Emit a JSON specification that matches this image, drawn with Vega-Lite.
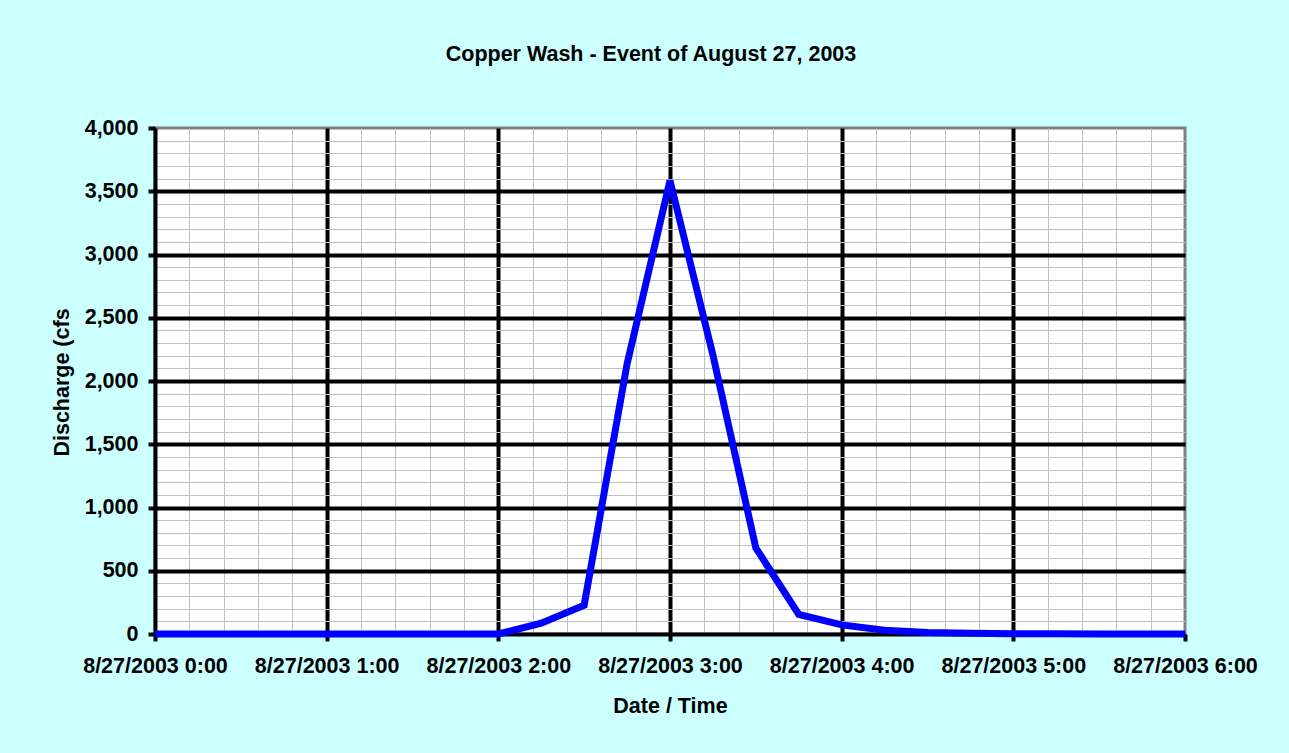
{
  "$schema": "https://vega.github.io/schema/vega-lite/v6.json",
  "width": 1030,
  "height": 506,
  "autosize": {"type": "none"},
  "padding": {"left": 155, "top": 128, "right": 104, "bottom": 119},
  "background": "#CCFFFF",
  "title": {
    "text": "Copper Wash - Event of August 27, 2003",
    "font": "Liberation Sans",
    "fontSize": 21.5,
    "fontWeight": "bold",
    "color": "#000000",
    "anchor": "middle",
    "dx": -19,
    "offset": 35,
    "baseline": "alphabetic"
  },
  "config": {
    "view": {"fill": "#FFFFFF", "stroke": "#808080", "strokeWidth": 3},
    "axis": {
      "labelFont": "Liberation Sans",
      "labelFontSize": 21.5,
      "labelFontWeight": "bold",
      "labelColor": "#000000",
      "titleFont": "Liberation Sans",
      "titleFontSize": 21.5,
      "titleFontWeight": "bold",
      "titleColor": "#000000"
    }
  },
  "data": {
    "values": [
      {"hour": 0, "discharge": 0},
      {"hour": 0.25, "discharge": 0},
      {"hour": 0.5, "discharge": 0},
      {"hour": 0.75, "discharge": 0},
      {"hour": 1, "discharge": 0},
      {"hour": 1.25, "discharge": 0},
      {"hour": 1.5, "discharge": 0},
      {"hour": 1.75, "discharge": 0},
      {"hour": 2, "discharge": 0},
      {"hour": 2.25, "discharge": 85},
      {"hour": 2.5, "discharge": 228},
      {"hour": 2.75, "discharge": 2135},
      {"hour": 3, "discharge": 3585},
      {"hour": 3.25, "discharge": 2205},
      {"hour": 3.5, "discharge": 680},
      {"hour": 3.75, "discharge": 155},
      {"hour": 4, "discharge": 72},
      {"hour": 4.25, "discharge": 30},
      {"hour": 4.5, "discharge": 12},
      {"hour": 4.75, "discharge": 5},
      {"hour": 5, "discharge": 2},
      {"hour": 5.25, "discharge": 1},
      {"hour": 5.5, "discharge": 0},
      {"hour": 5.75, "discharge": 0},
      {"hour": 6, "discharge": 0}
    ]
  },
  "layer": [
    {
      "mark": {"type": "line", "opacity": 0},
      "encoding": {
        "x": {
          "field": "hour",
          "type": "quantitative",
          "scale": {"domain": [0, 6], "nice": false, "zero": false},
          "axis": {
            "orient": "bottom",
            "grid": true,
            "gridColor": "#C0C0C0",
            "gridWidth": 1,
            "labels": false,
            "ticks": false,
            "domain": false,
            "title": null,
            "values": [0.2, 0.4, 0.6, 0.8, 1.2, 1.4, 1.6, 1.8, 2.2, 2.4, 2.6, 2.8, 3.2, 3.4, 3.6, 3.8, 4.2, 4.4, 4.6, 4.8, 5.2, 5.4, 5.6, 5.8]
          }
        },
        "y": {
          "field": "discharge",
          "type": "quantitative",
          "scale": {"domain": [0, 4000], "nice": false},
          "axis": {
            "orient": "left",
            "grid": true,
            "gridColor": "#C0C0C0",
            "gridWidth": 1,
            "labels": false,
            "ticks": false,
            "domain": false,
            "title": null,
            "values": [100, 200, 300, 400, 600, 700, 800, 900, 1100, 1200, 1300, 1400, 1600, 1700, 1800, 1900, 2100, 2200, 2300, 2400, 2600, 2700, 2800, 2900, 3100, 3200, 3300, 3400, 3600, 3700, 3800, 3900]
          }
        }
      }
    },
    {
      "mark": {"type": "line", "opacity": 0},
      "encoding": {
        "x": {
          "field": "hour",
          "type": "quantitative",
          "axis": {
            "orient": "bottom",
            "grid": true,
            "gridColor": "#000000",
            "gridWidth": 4,
            "labels": false,
            "ticks": false,
            "domain": false,
            "title": null,
            "values": [1, 2, 3, 4, 5]
          }
        },
        "y": {
          "field": "discharge",
          "type": "quantitative",
          "axis": {
            "orient": "left",
            "grid": true,
            "gridColor": "#000000",
            "gridWidth": 4,
            "labels": false,
            "ticks": false,
            "domain": false,
            "title": null,
            "values": [500, 1000, 1500, 2000, 2500, 3000, 3500]
          }
        }
      }
    },
    {
      "mark": {"type": "line", "color": "#0000FF", "strokeWidth": 7},
      "encoding": {
        "x": {
          "field": "hour",
          "type": "quantitative",
          "axis": {
            "orient": "bottom",
            "grid": false,
            "domain": true,
            "domainColor": "#000000",
            "domainWidth": 4,
            "ticks": true,
            "tickColor": "#000000",
            "tickWidth": 4,
            "tickSize": 7,
            "labelPadding": 31,
            "labelBaseline": "alphabetic",
            "labelFlush": false,
            "labelOverlap": false,
            "values": [0, 1, 2, 3, 4, 5, 6],
            "labelExpr": "'8/27/2003 ' + datum.value + ':00'",
            "title": "Date / Time",
            "titleY": 78,
            "titleBaseline": "alphabetic"
          }
        },
        "y": {
          "field": "discharge",
          "type": "quantitative",
          "axis": {
            "orient": "left",
            "grid": false,
            "domain": true,
            "domainColor": "#000000",
            "domainWidth": 4,
            "ticks": true,
            "tickColor": "#000000",
            "tickWidth": 4,
            "tickSize": 7,
            "labelPadding": 10,
            "labelFlush": false,
            "labelOverlap": false,
            "format": ",.0f",
            "values": [0, 500, 1000, 1500, 2000, 2500, 3000, 3500, 4000],
            "title": "Discharge (cfs",
            "titleAngle": -90,
            "titleX": -87,
            "titleY": 254,
            "titleAlign": "center",
            "titleBaseline": "alphabetic"
          }
        }
      }
    }
  ],
  "resolve": {"axis": {"x": "independent", "y": "independent"}}
}
